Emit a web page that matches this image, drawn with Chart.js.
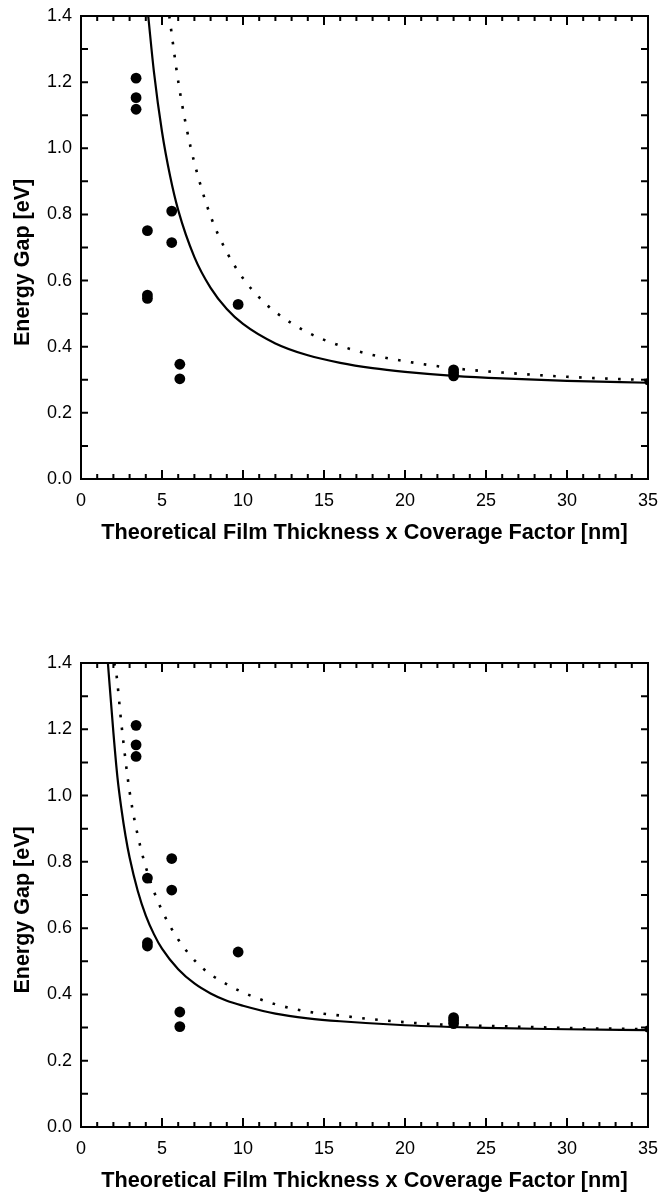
<!DOCTYPE html>
<html>
<head>
<meta charset="utf-8">
<script src="https://cdn.jsdelivr.net/npm/chart.js@4.4.1/dist/chart.umd.min.js"></script>
<style>
  body { margin: 0; background: #fff; }
  .panel { width: 660px; height: 597px; }
</style>
</head>
<body>
<div class="panel"><canvas id="gapTop" width="660" height="597"></canvas></div>
<div class="panel"><canvas id="gapBottom" width="660" height="597"></canvas></div>
<script>
// measured samples (same set in both panels)
const thickness = [3.4, 3.4, 3.4, 4.1, 4.1, 4.1, 5.6, 5.6, 6.1, 6.1, 9.7, 23, 23, 23];
const gap = [1.212, 1.153, 1.118, 0.751, 0.556, 0.546, 0.810, 0.715, 0.347, 0.303, 0.528, 0.330, 0.321, 0.312];

// point sitting on the right edge
const edgeX = [35];
const edgeTopY = [0.294];
const edgeBottomY = [0.296];

// upper panel curves
const solidTopX = [4.15, 4.5, 5, 5.5, 6, 7, 8, 9, 10, 12, 14, 16, 18, 20, 23, 26, 30, 35];
const solidTopY = [1.400, 1.232, 1.050, 0.916, 0.813, 0.671, 0.578, 0.514, 0.469, 0.410, 0.374, 0.351, 0.335, 0.324, 0.312, 0.304, 0.297, 0.291];
const dotTopX = [5.45, 6, 6.5, 7, 8, 9, 10, 11, 12, 14, 16, 18, 20, 23, 26, 30, 35];
const dotTopY = [1.400, 1.203, 1.065, 0.956, 0.795, 0.686, 0.607, 0.549, 0.505, 0.443, 0.403, 0.375, 0.356, 0.335, 0.322, 0.309, 0.299];

// lower panel curves
const solidBottomX = [1.66, 2.0, 2.25, 2.5, 2.75, 3, 3.5, 4, 4.5, 5, 6, 7, 8, 9, 10, 12, 14, 16, 20, 25, 30, 35];
const solidBottomY = [1.400, 1.190, 1.055, 0.958, 0.878, 0.813, 0.713, 0.638, 0.582, 0.538, 0.476, 0.433, 0.403, 0.381, 0.366, 0.342, 0.328, 0.319, 0.307, 0.299, 0.295, 0.292];
const dotBottomX = [2.05, 2.16, 2.5, 3.0, 3.64, 4.36, 5.05, 6.0, 7.35, 9.1, 10.75, 12.4, 14.0, 15.7, 18, 21.5, 26.7, 30, 35];
const dotBottomY = [1.400, 1.376, 1.213, 1.012, 0.851, 0.730, 0.648, 0.566, 0.486, 0.428, 0.391, 0.365, 0.348, 0.338, 0.325, 0.311, 0.303, 0.299, 0.295];

const xTitle = 'Theoretical Film Thickness x Coverage Factor [nm]';
const yTitle = 'Energy Gap [eV]     ';

const pts = (xs, ys) => xs.map((v, i) => ({ x: v, y: ys[i] }));

// closed frame with inward ticks on all four sides
const frameTicks = {
  id: 'frameTicks',
  afterDatasetsDraw(chart) {
    const { ctx, chartArea: a, scales: { x, y } } = chart;
    ctx.save();
    ctx.strokeStyle = '#000';
    ctx.lineWidth = 2;
    ctx.beginPath();
    for (let v = 0; v <= 35; v++) {
      const px = x.getPixelForValue(v);
      const len = v % 5 === 0 ? 9 : 5;
      ctx.moveTo(px, a.bottom); ctx.lineTo(px, a.bottom - len);
      ctx.moveTo(px, a.top); ctx.lineTo(px, a.top + len);
    }
    for (let i = 0; i <= 14; i++) {
      const py = y.getPixelForValue(i / 10);
      ctx.moveTo(a.left, py); ctx.lineTo(a.left + 7, py);
      ctx.moveTo(a.right, py); ctx.lineTo(a.right - 7, py);
    }
    ctx.stroke();
    ctx.strokeRect(a.left, a.top, a.right - a.left, a.bottom - a.top);
    ctx.restore();
  }
};

function makeChart(id, solid, dotted, edge, padTop, padBottom) {
  new Chart(document.getElementById(id), {
    type: 'scatter',
    data: {
      datasets: [
        {
          data: pts(thickness, gap),
          pointRadius: 5.4, pointHoverRadius: 5.4,
          backgroundColor: '#000', borderColor: '#000', borderWidth: 0
        },
        {
          data: edge,
          pointRadius: 3.5,
          backgroundColor: '#000', borderColor: '#000', borderWidth: 0,
          clip: 0
        },
        {
          data: solid,
          showLine: true, pointRadius: 0,
          borderColor: '#000', borderWidth: 2.2,
          cubicInterpolationMode: 'monotone'
        },
        {
          data: dotted,
          showLine: true, pointRadius: 0,
          borderColor: '#000', borderWidth: 2.6,
          borderDash: [2.6, 10.4], borderCapStyle: 'butt',
          cubicInterpolationMode: 'monotone'
        }
      ]
    },
    options: {
      responsive: false,
      animation: false,
      events: [],
      layout: { padding: { top: padTop, bottom: padBottom, left: 0, right: 12 } },
      plugins: { legend: { display: false }, tooltip: { enabled: false } },
      scales: {
        x: {
          type: 'linear', min: 0, max: 35,
          afterFit: s => { s.height = 67; s.paddingLeft = 0; s.paddingRight = 0; },
          grid: { display: false, drawTicks: false },
          border: { display: false },
          ticks: {
            stepSize: 5, padding: 11, color: '#000',
            font: { family: 'Liberation Sans, Arial, sans-serif', size: 18 }
          },
          title: {
            display: true, text: xTitle, color: '#000',
            padding: { top: 0, bottom: 0 },
            font: { family: 'Liberation Sans, Arial, sans-serif', size: 21.7, weight: 'bold' }
          }
        },
        y: {
          type: 'linear', min: 0, max: 1.4,
          afterFit: s => { s.width = 81; s.paddingTop = 0; s.paddingBottom = 0; },
          grid: { display: false, drawTicks: false },
          border: { display: false },
          ticks: {
            stepSize: 0.2, padding: 9, color: '#000',
            callback: v => v.toFixed(1),
            font: { family: 'Liberation Sans, Arial, sans-serif', size: 18 }
          },
          title: {
            display: true, text: yTitle, color: '#000',
            padding: { top: 10, bottom: 0 },
            font: { family: 'Liberation Sans, Arial, sans-serif', size: 21.5, weight: 'bold' }
          }
        }
      }
    },
    plugins: [frameTicks]
  });
}

makeChart('gapTop', pts(solidTopX, solidTopY), pts(dotTopX, dotTopY), pts(edgeX, edgeTopY), 16, 51);
makeChart('gapBottom', pts(solidBottomX, solidBottomY), pts(dotBottomX, dotBottomY), pts(edgeX, edgeBottomY), 66, 0);
</script>
</body>
</html>
